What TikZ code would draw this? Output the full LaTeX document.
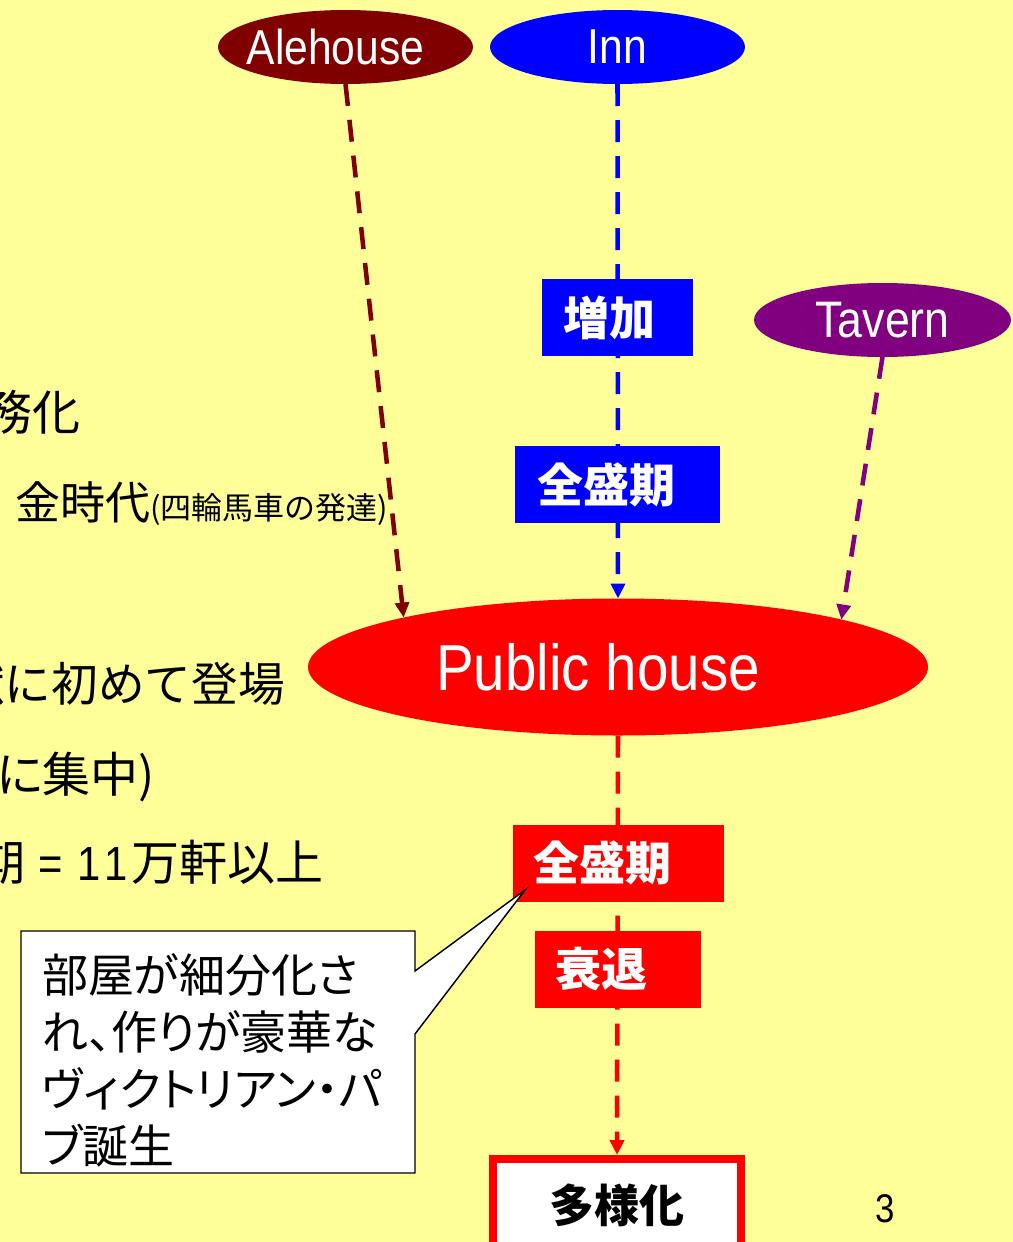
\documentclass[tikz,border=0pt]{standalone}
\usepackage{fontspec}
\setmainfont[RawFeature=+palt]{Noto Sans CJK JP}
\newfontfamily\fulljp{Noto Sans CJK JP}
\newfontfamily\lat[FakeStretch=0.87]{Liberation Sans}
\usetikzlibrary{arrows.meta,shapes.geometric}
\definecolor{bg}{RGB}{255,255,153}
\definecolor{alec}{RGB}{128,0,0}
\definecolor{innc}{RGB}{0,0,255}
\definecolor{tavc}{RGB}{128,0,128}
\definecolor{phc}{RGB}{255,0,0}
\begin{document}
\begin{tikzpicture}[x=0.75pt,y=-0.75pt,
  every node/.style={inner sep=0pt,outer sep=0pt},
  src/.style={ellipse,minimum width=#1,minimum height=55.5pt,text=white,
    font=\lat\fontsize{36.75pt}{44pt}\selectfont},
  flow/.style={line width=3.4pt,dash pattern=on 16.5pt off 10.5pt,
    -{Triangle[width=10.5pt,length=11.25pt]}},
  lbl/.style={rectangle,minimum height=57.75pt,text=white,
    font=\bfseries\fontsize{34.5pt}{40pt}\selectfont},
  side/.style={anchor=base east,font=\fontsize{36pt}{42pt}\selectfont},
  note/.style={anchor=base west,font=\fontsize{34.5pt}{40pt}\selectfont}]
\useasboundingbox (0,0) rectangle (1013,1242);
\fill[bg] (0,0) rectangle (1013,1242);

% left text (cut by the page edge, as in the reference)
\node[side] (t1) at (80,430) {務化};
\node[side] (t2) at (388,519) {{\fontsize{33.75pt}{40pt}\selectfont 金時代}{\fulljp\fontsize{23.25pt}{28pt}\selectfont(四輪馬車の発達)}};
\node[side,font=\fulljp\fontsize{35pt}{42pt}\selectfont] (t3) at (285,701) {献に初めて登場};
\node[side] (t4) at (155,792) {に集中)};
\node[side] (t5) at (324,880) {期\hspace{9.5pt}{\lat =}\hspace{10.9pt}{\lat 1}\hspace{3pt}{\lat 1}\hspace{3pt}万軒以上};

% source nodes
\node[src=191.25pt,fill=alec] (ale) at (345.5,47) {\makebox[0pt]{Alehouse\kern15pt}};
\node[src=191.25pt,fill=innc] (inn) at (617.5,47) {Inn};
\node[src=192.75pt,fill=tavc,font=\lat\fontsize{38.5pt}{44pt}\selectfont] (tav) at (882.5,320) {Tavern};
\node[ellipse,fill=phc,minimum width=465pt,minimum height=102.75pt,text=white,
  text depth=0pt,font=\lat\fontsize{48.75pt}{56pt}\selectfont] (ph) at (618,667) {Public house\kern30pt};
\node[draw=phc,line width=6pt,outer sep=3pt,fill=white,minimum width=186pt,
  minimum height=69pt,font=\bfseries\fontsize{33.75pt}{40pt}\selectfont] (div) at (617,1205) {多様化};

% connectors
\draw[flow,alec] (ale.south) -- (ph.167.7);
\draw[flow,innc] (inn.south) -- (ph.north);
\draw[flow,tavc] (tav.south) -- (ph.12.25);
\draw[flow,phc] (ph.south) -- (div.north);

% labels on the connectors
\node[lbl,fill=innc] (b1) at (617.5,317.5) {\makebox[113.25pt][l]{\hspace{15.75pt}増加}};
\node[lbl,fill=innc] (b2) at (617.5,484.5) {\makebox[153.75pt][l]{\hspace{16.5pt}全盛期}};
\node[lbl,fill=phc] (r1) at (618.5,863) {\makebox[158.25pt][l]{\hspace{15pt}全盛期}};
\node[lbl,fill=phc] (r2) at (618,969.5) {\makebox[124.5pt][l]{\hspace{15pt}衰退}};

% callout
\coordinate (tip) at (525,890);
\draw[line width=1.1pt,fill=white] (21,931) -- (415,931) -- (415,971) -- (tip)
  -- (415,1034) -- (415,1173) -- (21,1173) -- cycle;
\node[note] (c1) at (42,992) {部屋が細分化さ};
\node[note] (c2) at (42,1049) {れ、作りが豪華な};
\node[note] (c3) at (42,1106) {ヴィクトリアン・パ};
\node[note] (c4) at (42,1163) {ブ誕生};

% page number
\node[font=\lat\fontsize{30pt}{36pt}\selectfont] (pg) at (885,1209) {3};
\end{tikzpicture}
\end{document}
